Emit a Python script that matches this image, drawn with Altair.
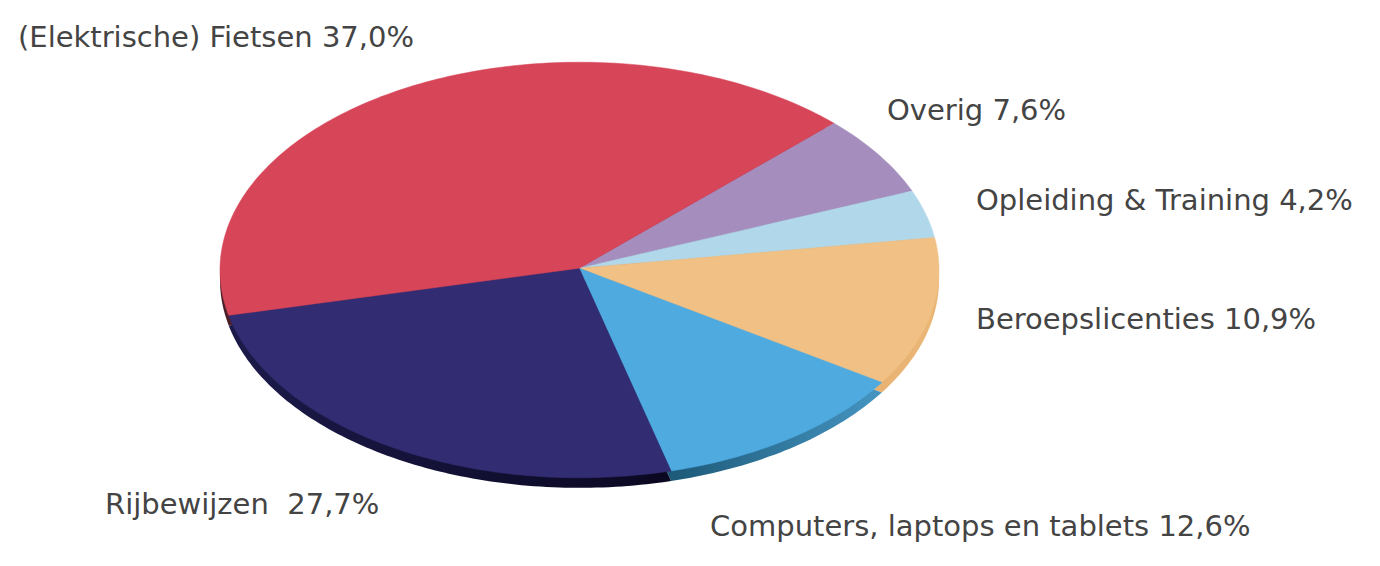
import math
import altair as alt

# Clockwise from the top-right edge of the red slice
names = ["Overig", "Opleiding & Training", "Beroepslicenties",
         "Computers, laptops en tablets", "Rijbewijzen", "(Elektrische) Fietsen"]
# Share of the ellipse each slice occupies as drawn in the picture (percent)
drawn_shares = [6.3, 3.7, 11.6, 11.8, 25.6, 41.0]
top_colors = ["#a58dbd", "#b1d8ea", "#f0c084", "#4faae0", "#322c72", "#d74559"]
# Left and right end of each slice's rim
side_colors = [("#7d6a90", "#7d6a90"), ("#86a5b3", "#86a5b3"), ("#dfa45e", "#eab676"),
               ("#0c3f58", "#4595c2"), ("#1c1a4a", "#0a0820"), ("#4a1f28", "#7a2f3c")]
label_texts = ["Overig 7,6%", "Opleiding & Training 4,2%", "Beroepslicenties 10,9%",
               "Computers, laptops en tablets 12,6%", "Rijbewijzen\u00a0\u00a027,7%",
               "(Elektrische) Fietsen 37,0%"]
START_ANGLE = 45.0
ASPECT = 0.578
DEPTH = 0.028
RX = 359.5
CX, CY = 571.5, 262


def slice_feature(name, a0, a1, dy=0.0):
    steps = max(2, int(abs(a1 - a0)))
    ring = [[-0.001, 0.005 + dy]]
    for i in range(steps + 1):
        a = math.radians(a0 + (a1 - a0) * i / steps)
        ring.append([math.cos(a), math.sin(a) * ASPECT + dy])
    ring.append(ring[0])
    return {"type": "Feature", "properties": {"name": name},
            "geometry": {"type": "Polygon", "coordinates": [ring]}}


proj = dict(type="identity", reflectY=True, scale=RX, translate=[CX, CY])
spans = []
a = START_ANGLE
for s in drawn_shares:
    spans.append((a, a - s * 3.6))
    a -= s * 3.6

layers = []
for n, (a0, a1), (c0, c1) in zip(names, spans, side_colors):
    f = slice_feature(n, a0, a1, -DEPTH)
    grad = alt.LinearGradient(
        gradient="linear", x1=0, x2=1, y1=0, y2=0,
        stops=[alt.GradientStop(offset=0, color=c0), alt.GradientStop(offset=1, color=c1)],
    )
    layers.append(alt.Chart(alt.Data(values=[f])).mark_geoshape(fill=grad, strokeWidth=0).project(**proj))
for n, (a0, a1), c in zip(names, spans, top_colors):
    f = slice_feature(n, a0, a1)
    layers.append(alt.Chart(alt.Data(values=[f])).mark_geoshape(fill=c, stroke=c, strokeWidth=0.5).project(**proj))

label_pos = [(879, 112), (968, 202), (968, 321), (702, 528), (97, 506), (10, 39)]
for t, (x, y) in zip(label_texts, label_pos):
    layers.append(
        alt.Chart(alt.Data(values=[{"t": t}]))
        .mark_text(align="left", baseline="alphabetic", font="DejaVu Sans", fontSize=29, color="#444444")
        .encode(x=alt.value(x), y=alt.value(y), text="t:N")
    )

chart = (
    alt.layer(*layers)
    .properties(width=1364, height=550, padding=0)
    .configure_view(stroke=None)
)
chart.save("out.html", embed_options={"renderer": "svg", "actions": False})
